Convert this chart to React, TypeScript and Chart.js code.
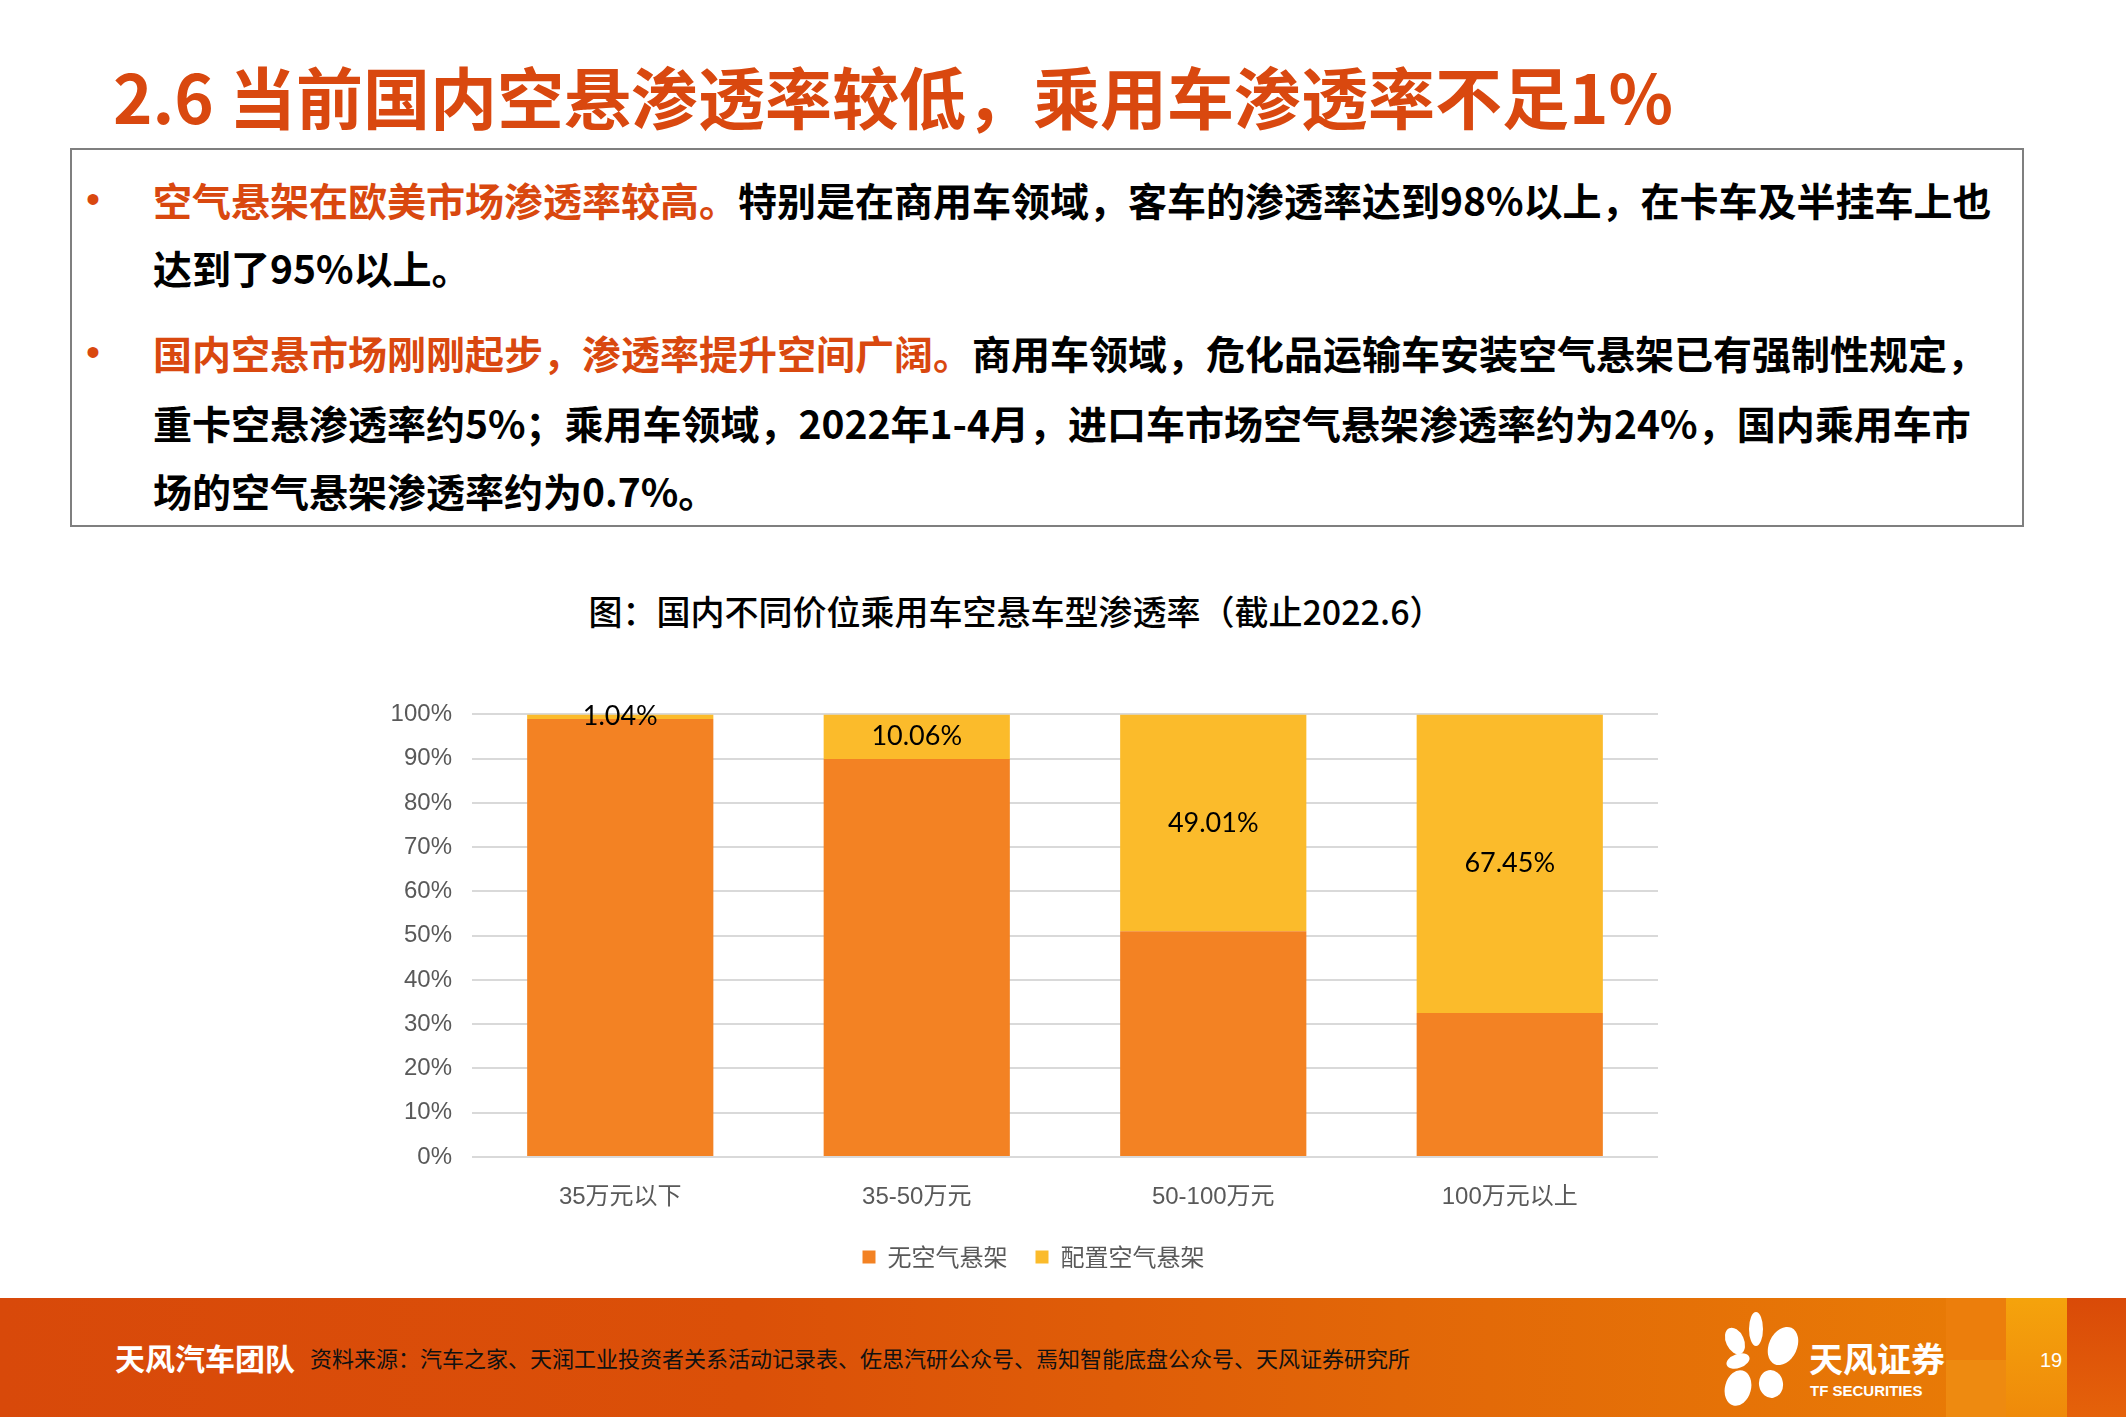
import React, { useEffect, useRef } from 'react';
import { Chart, registerables } from 'chart.js';

Chart.register(...registerables);

// ---- data ----
const categories = ['35万元以下', '35-50万元', '50-100万元', '100万元以上'];
const seriesNames = ['无空气悬架', '配置空气悬架'];
const withoutAirSuspension = [98.96, 89.94, 50.99, 32.55];
const withAirSuspension = [1.04, 10.06, 49.01, 67.45];
const yTickMin = 0;
const yTickMax = 100;
const yTickStep = 10;

const ORANGE = '#F38223';
const YELLOW = '#FBBB2B';
const TITLE_RED = '#D9480F';
const CJK = '"Noto Sans CJK SC", "Noto Sans", sans-serif';

const CANVAS_W = 1273;
const CANVAS_H = 599;

const valueLabelPlugin = {
  id: 'valueLabels',
  afterDatasetsDraw(chart: any) {
    const ctx = chart.ctx;
    const meta = chart.getDatasetMeta(1);
    const data = chart.data.datasets[1].data as number[];
    ctx.save();
    ctx.font = '27px Lato, "Liberation Sans", sans-serif';
    ctx.fillStyle = '#000000';
    ctx.textAlign = 'center';
    ctx.textBaseline = 'middle';
    meta.data.forEach((el: any, i: number) => {
      const p = el.getProps(['x', 'y', 'base'], true);
      const cy = (p.y + p.base) / 2;
      ctx.fillText(`${data[i].toFixed(2)}%`, p.x, cy);
    });
    ctx.restore();
  },
};

const legendShiftPlugin = {
  id: 'legendShift',
  afterLayout(chart: any) {
    const l = chart.legend;
    if (l) {
      l.left += 12;
      l.right += 12;
    }
  },
};

function PenetrationChart() {
  const ref = useRef<HTMLCanvasElement | null>(null);
  useEffect(() => {
    if (!ref.current) return;
    const chart = new Chart(ref.current, {
      type: 'bar',
      data: {
        labels: categories,
        datasets: [
          {
            label: seriesNames[0],
            data: withoutAirSuspension,
            backgroundColor: ORANGE,
            categoryPercentage: 1,
            barPercentage: 0.628,
          },
          {
            label: seriesNames[1],
            data: withAirSuspension,
            backgroundColor: YELLOW,
            categoryPercentage: 1,
            barPercentage: 0.628,
          },
        ],
      },
      options: {
        responsive: false,
        animation: false,
        devicePixelRatio: 1,
        layout: { padding: { top: 33, left: 0, right: 0, bottom: 0 } },
        scales: {
          x: {
            stacked: true,
            grid: { display: false, drawTicks: false },
            border: { display: false },
            ticks: {
              padding: 26,
              color: '#595959',
              font: { family: '"Liberation Sans", "Noto Sans CJK SC", sans-serif', size: 24 },
            },
            afterFit(scale: any) {
              scale.height = 60;
            },
          },
          y: {
            stacked: true,
            min: yTickMin,
            max: yTickMax,
            ticks: {
              stepSize: yTickStep,
              padding: 20,
              color: '#595959',
              font: { family: '"Liberation Sans", sans-serif', size: 24 },
              callback: (v: any) => `${v}%`,
            },
            grid: { color: '#D9D9D9', lineWidth: 2, drawTicks: false },
            border: { display: false },
            afterFit(scale: any) {
              scale.width = 87;
            },
          },
        },
        plugins: {
          tooltip: { enabled: false },
          title: { display: false },
          legend: {
            display: true,
            position: 'bottom',
            labels: {
              boxWidth: 13,
              boxHeight: 13,
              padding: 28,
              color: '#595959',
              font: { family: CJK, size: 24 },
            },
          },
        },
      },
      plugins: [valueLabelPlugin, legendShiftPlugin],
    });
    return () => chart.destroy();
  }, []);
  return (
    <canvas
      ref={ref}
      width={CANVAS_W}
      height={CANVAS_H}
      style={{ position: 'absolute', left: 385, top: 680, width: CANVAS_W, height: CANVAS_H }}
    />
  );
}

function TextLine({ y, children }: { y: number; children: React.ReactNode }) {
  return (
    <div
      style={{
        position: 'absolute',
        left: 153,
        top: y - 25,
        height: 50,
        lineHeight: '50px',
        fontSize: 39,
        fontWeight: 700,
        fontFamily: CJK,
        color: '#000',
        whiteSpace: 'nowrap',
      }}
    >
      {children}
    </div>
  );
}

function Bullet({ y }: { y: number }) {
  return (
    <div
      style={{
        position: 'absolute',
        left: 86,
        top: y - 25,
        height: 50,
        lineHeight: '50px',
        fontSize: 40,
        fontFamily: '"Liberation Sans", sans-serif',
        color: TITLE_RED,
      }}
    >
      •
    </div>
  );
}

function Logo() {
  return (
    <svg width={90} height={100} style={{ position: 'absolute', left: 1718, top: 1308 }} viewBox="0 0 90 100">
      <g fill="#ffffff">
        <ellipse cx={38} cy={21} rx={7} ry={17} />
        <ellipse cx={17} cy={33} rx={9} ry={14} transform="rotate(-25 17 33)" />
        <ellipse cx={65} cy={38} rx={14} ry={20} transform="rotate(25 65 38)" />
        <ellipse cx={20} cy={53} rx={12} ry={7} transform="rotate(-20 20 53)" />
        <ellipse cx={20} cy={80} rx={13} ry={18} transform="rotate(15 20 80)" />
        <ellipse cx={53} cy={76} rx={12} ry={14} transform="rotate(-10 53 76)" />
      </g>
    </svg>
  );
}

export default function App() {
  return (
    <div
      style={{
        position: 'absolute',
        left: 0,
        top: 0,
        width: 2126,
        height: 1417,
        background: '#ffffff',
        overflow: 'hidden',
        fontFamily: CJK,
      }}
    >
      {/* Slide title */}
      <div
        style={{
          position: 'absolute',
          left: 113,
          top: 61,
          height: 68,
          lineHeight: '68px',
          fontSize: 67,
          fontWeight: 700,
          color: TITLE_RED,
          whiteSpace: 'nowrap',
        }}
      >
        2.6 当前国内空悬渗透率较低，乘用车渗透率不足1%
      </div>

      {/* Text box */}
      <div
        style={{
          position: 'absolute',
          left: 70,
          top: 148,
          width: 1954,
          height: 379,
          border: '2px solid #7F7F7F',
          boxSizing: 'border-box',
        }}
      />
      <Bullet y={199} />
      <TextLine y={199}>
        <span style={{ color: TITLE_RED }}>空气悬架在欧美市场渗透率较高。</span>
        特别是在商用车领域，客车的渗透率达到98%以上，在卡车及半挂车上也
      </TextLine>
      <TextLine y={267}>达到了95%以上。</TextLine>
      <Bullet y={352} />
      <TextLine y={352}>
        <span style={{ color: TITLE_RED }}>国内空悬市场刚刚起步，渗透率提升空间广阔。</span>
        商用车领域，危化品运输车安装空气悬架已有强制性规定，
      </TextLine>
      <TextLine y={422}>
        重卡空悬渗透率约5%；乘用车领域，2022年1-4月，进口车市场空气悬架渗透率约为24%，国内乘用车市
      </TextLine>
      <TextLine y={490}>场的空气悬架渗透率约为0.7%。</TextLine>

      {/* Chart title */}
      <div
        style={{
          position: 'absolute',
          left: 416,
          top: 591,
          width: 1200,
          height: 40,
          lineHeight: '40px',
          textAlign: 'center',
          fontSize: 34,
          fontWeight: 500,
          color: '#000',
          whiteSpace: 'nowrap',
        }}
      >
        图：国内不同价位乘用车空悬车型渗透率（截止2022.6）
      </div>

      <PenetrationChart />

      {/* Footer */}
      <div
        style={{
          position: 'absolute',
          left: 0,
          top: 1298,
          width: 2126,
          height: 119,
          background: 'linear-gradient(90deg, #D8490A 0%, #DB5008 35%, #E36A08 70%, #E87A06 92%)',
        }}
      />
      <div style={{ position: 'absolute', left: 1946, top: 1298, width: 60, height: 119, background: '#EC7E0C' }} />
      <div style={{ position: 'absolute', left: 1946, top: 1360, width: 60, height: 57, background: '#EE8A10' }} />
      <div style={{ position: 'absolute', left: 2006, top: 1298, width: 61, height: 119, background: 'linear-gradient(180deg, #F5A30C, #EF8A0A)' }} />
      <div style={{ position: 'absolute', left: 2067, top: 1298, width: 59, height: 119, background: 'linear-gradient(180deg, #D94A08, #E5620A)' }} />

      <div
        style={{
          position: 'absolute',
          left: 115,
          top: 1337,
          height: 40,
          lineHeight: '40px',
          fontSize: 30,
          fontWeight: 700,
          color: '#ffffff',
          whiteSpace: 'nowrap',
        }}
      >
        天风汽车团队
      </div>
      <div
        style={{
          position: 'absolute',
          left: 310,
          top: 1342,
          height: 30,
          lineHeight: '30px',
          fontSize: 22,
          color: '#111111',
          whiteSpace: 'nowrap',
        }}
      >
        资料来源：汽车之家、天润工业投资者关系活动记录表、佐思汽研公众号、焉知智能底盘公众号、天风证券研究所
      </div>

      <Logo />
      <div
        style={{
          position: 'absolute',
          left: 1809,
          top: 1338,
          height: 40,
          lineHeight: '40px',
          fontSize: 34,
          fontWeight: 700,
          color: '#ffffff',
          whiteSpace: 'nowrap',
        }}
      >
        天风证券
      </div>
      <div
        style={{
          position: 'absolute',
          left: 1810,
          top: 1382,
          height: 18,
          lineHeight: '18px',
          fontSize: 15,
          fontWeight: 700,
          fontFamily: '"Liberation Sans Narrow", "Liberation Sans", sans-serif',
          color: '#ffffff',
          whiteSpace: 'nowrap',
        }}
      >
        TF SECURITIES
      </div>
      <div
        style={{
          position: 'absolute',
          left: 2040,
          top: 1347,
          height: 26,
          lineHeight: '26px',
          fontSize: 20,
          fontFamily: '"Liberation Sans", sans-serif',
          color: '#ffffff',
        }}
      >
        19
      </div>
    </div>
  );
}
